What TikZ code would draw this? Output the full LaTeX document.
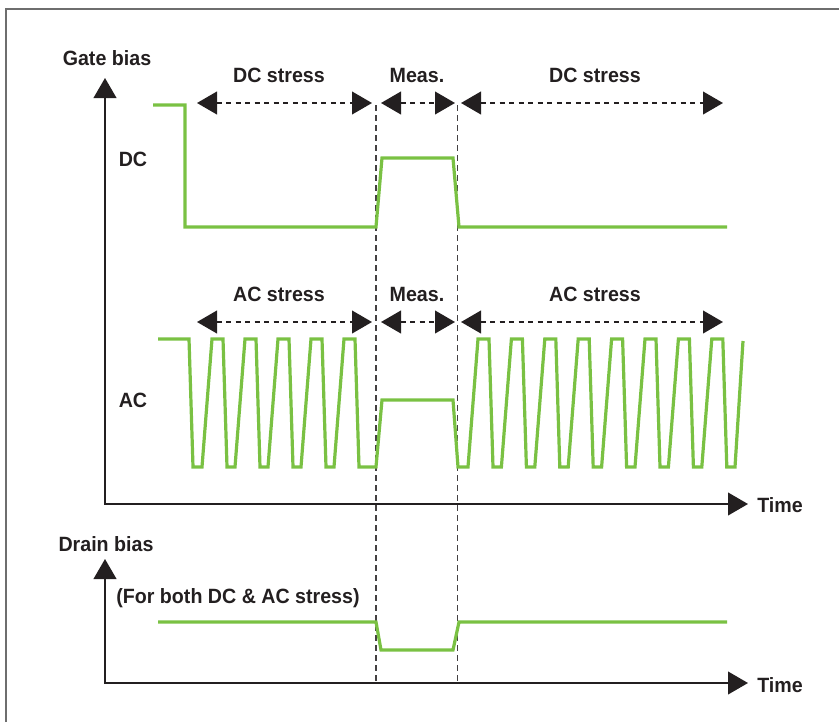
\documentclass[tikz,border=0pt]{standalone}
\usepackage{fontspec}
\setmainfont[FakeStretch=0.95]{Liberation Sans}
\usetikzlibrary{arrows.meta}
\definecolor{wavegreen}{HTML}{7AC143}
\definecolor{framegray}{HTML}{6E6E6E}
\definecolor{inkblack}{HTML}{231F20}

\begin{document}
\begin{tikzpicture}[x=0.75pt,y=-0.75pt,>={Triangle[length=15pt,width=17pt]},
  every node/.style={font=\bfseries\fontsize{15.5}{18}\selectfont,text=inkblack,inner sep=0pt,anchor=base},
  axis/.style={inkblack,line width=1.5pt},
  span/.style={inkblack,line width=1.5pt,dash pattern=on 3.75pt off 3.4pt,<->},
  marker/.style={inkblack!85,line width=0.9pt,dash pattern=on 4.5pt off 3pt},
  wave/.style={wavegreen,line width=2.4pt,miter limit=10}]
\useasboundingbox (0,0) rectangle (839,722);
\draw[framegray,line width=1.1pt] (6,722) -- (6,9) -- (839,9);
% axes
\coordinate (gtop) at (105,78);
\coordinate (gend) at (748,504);
\coordinate (dtop) at (105,559);
\coordinate (dend) at (748,683);
\draw[axis,<->] (gtop) |- (gend);
\draw[axis,<->] (dtop) |- (dend);
\node (gatelbl) at (107,65) {Gate bias};
\node (drainlbl) at (106,551) {Drain bias};
\node[anchor=base west] (timeg) at (757,512) {Time};
\node[anchor=base west] (timed) at (757,692) {Time};
\node (dclbl) at (133,166) {DC};
\node (aclbl) at (133,407) {AC};
\node (bothlbl) at (238,603) {(For both DC \& AC stress)};
% measurement window
\coordinate (mlefttop) at (376,105);
\coordinate (mleftbot) at (376,683);
\coordinate (mrighttop) at (457.5,105);
\coordinate (mrightbot) at (457.5,683);
\draw[marker] (mlefttop) -- (mleftbot);
\draw[marker] (mrighttop) -- (mrightbot);
% spans, DC row
\node (dcstressa) at (279,82) {DC stress};
\node (measa) at (417,82) {Meas.};
\node (dcstressb) at (595,82) {DC stress};
\coordinate (sa1) at (197,103);
\coordinate (sa2) at (372,103);
\coordinate (sa3) at (381,103);
\coordinate (sa4) at (455,103);
\coordinate (sa5) at (461,103);
\coordinate (sa6) at (723,103);
\draw[span] (sa1) -- (sa2);
\draw[span] (sa3) -- (sa4);
\draw[span] (sa5) -- (sa6);
% spans, AC row
\node (acstressa) at (279,301) {AC stress};
\node (measb) at (417,301) {Meas.};
\node (acstressb) at (595,301) {AC stress};
\coordinate (sb1) at (197,322);
\coordinate (sb2) at (372,322);
\coordinate (sb3) at (381,322);
\coordinate (sb4) at (455,322);
\coordinate (sb5) at (461,322);
\coordinate (sb6) at (723,322);
\draw[span] (sb1) -- (sb2);
\draw[span] (sb3) -- (sb4);
\draw[span] (sb5) -- (sb6);
% waveforms
\draw[wave] (153,105) -- (185,105) -- (185,227) -- (376,227) -- (382,158) -- (453,158) -- (459,227) -- (727,227);
\draw[wave] (158,339) -- (189,339) -- (193,467)
  \foreach \i in {0,...,4} { -- ({202+33*\i},467) -- ({212+33*\i},339) -- ({223+33*\i},339) -- ({227+33*\i},467) }
  -- (376,467) -- (382,400) -- (453,400) -- (458,467)
  \foreach \i in {0,...,7} { -- ({468+33.4*\i},467) -- ({478+33.4*\i},339) -- ({489+33.4*\i},339) -- ({493+33.4*\i},467) }
  -- (735,467) -- (743,341);
\draw[wave] (158,622) -- (376,622) -- (381,650) -- (453,650) -- (459,622) -- (727,622);
\end{tikzpicture}
\end{document}
